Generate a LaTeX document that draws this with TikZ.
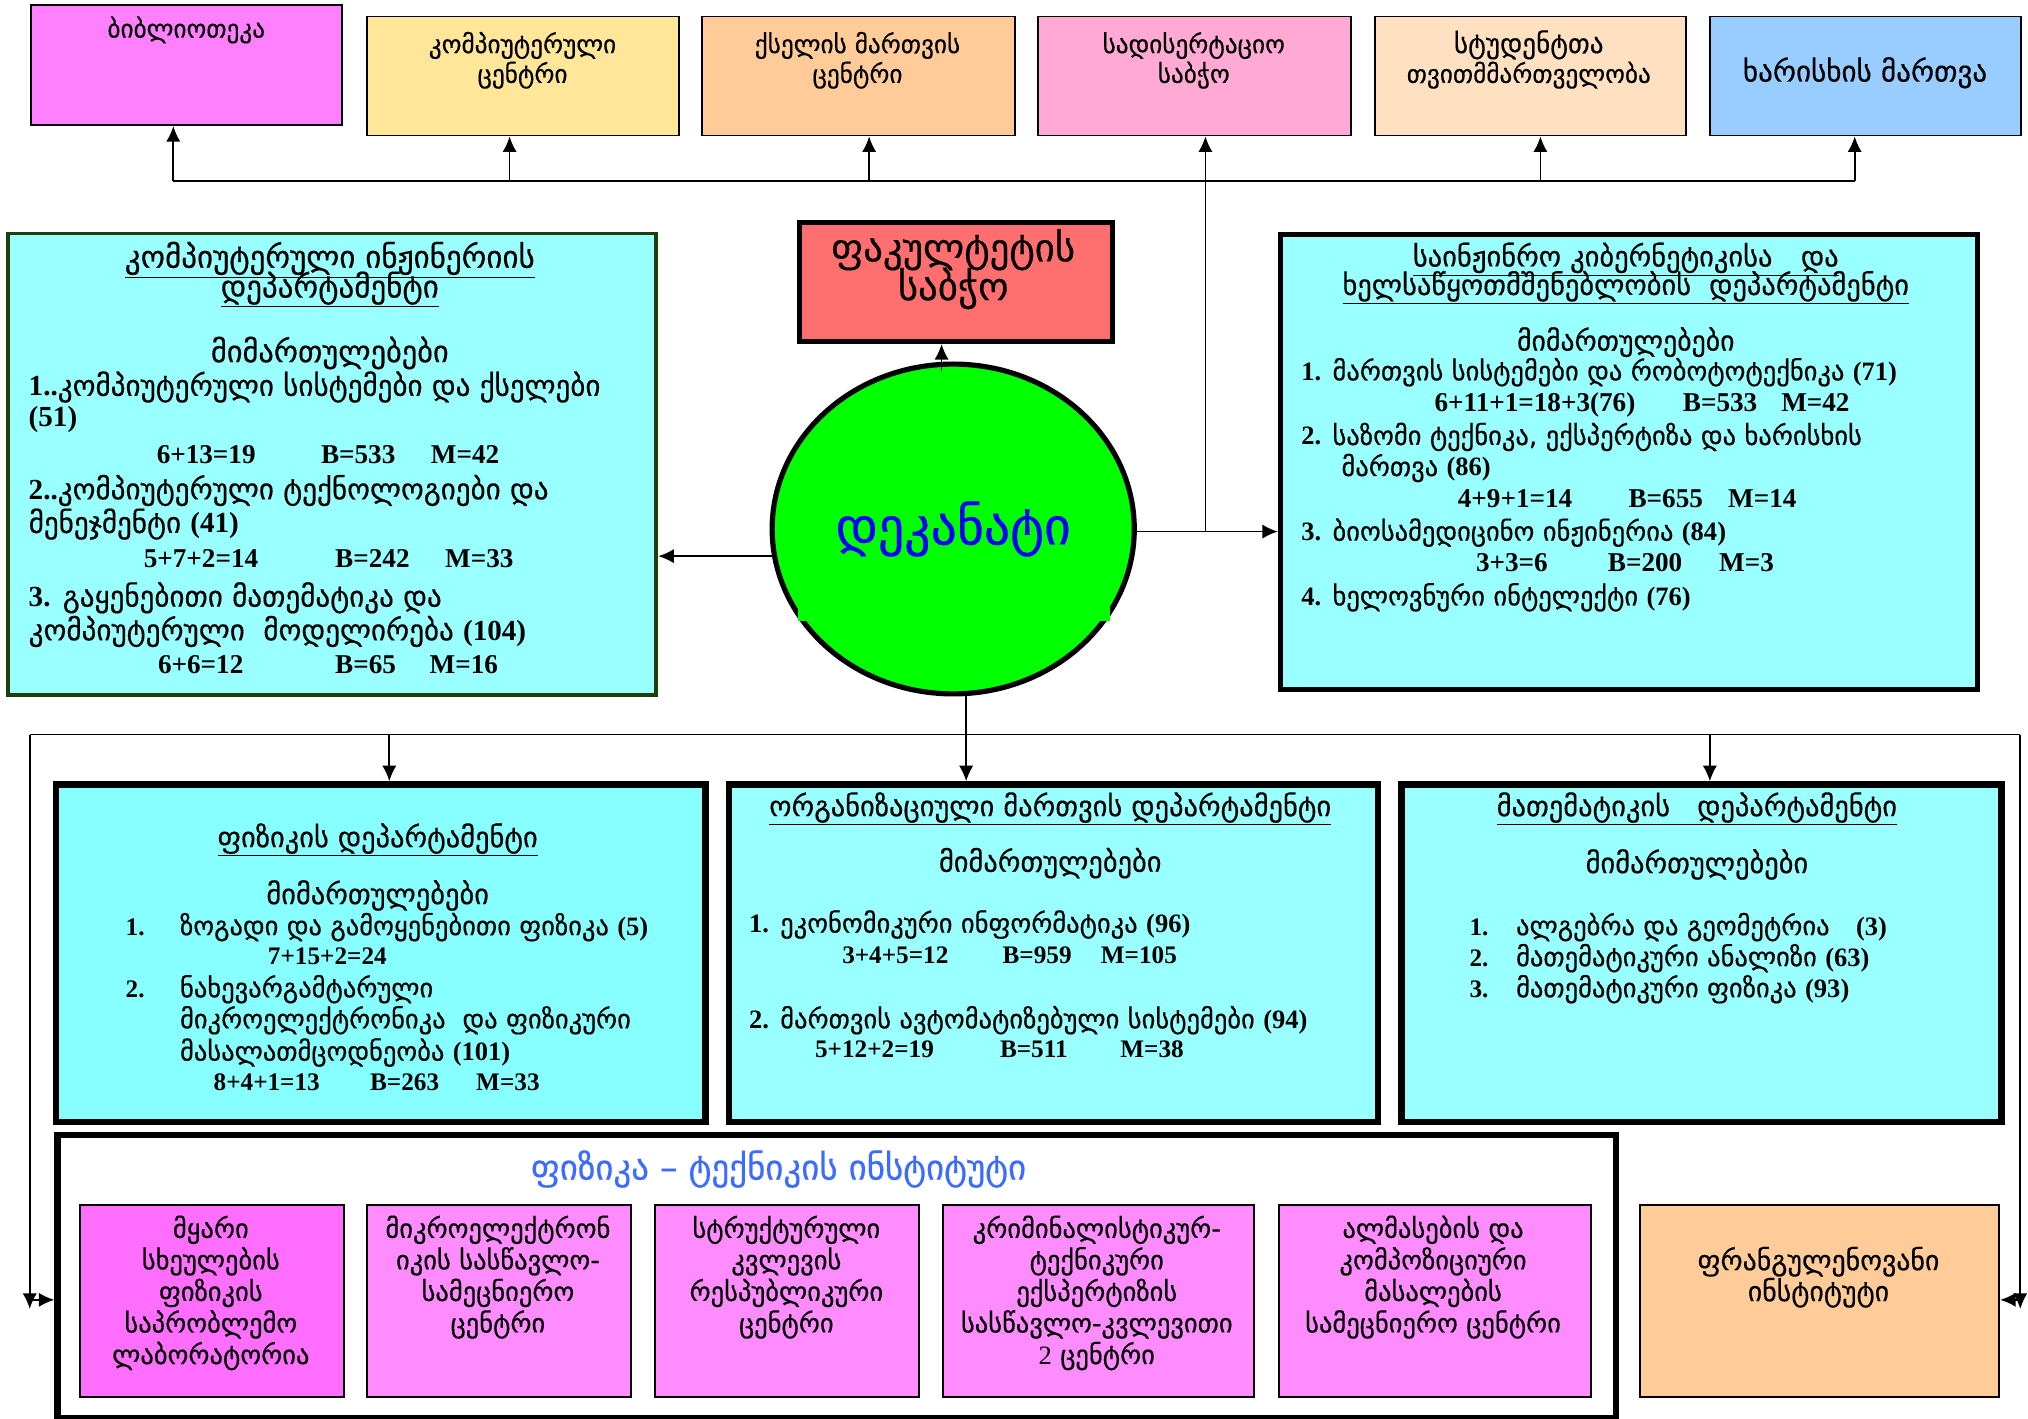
\documentclass[tikz,border=0pt]{standalone}
\usepackage{fontspec}
\setmainfont{Liberation Serif}
\newfontfamily\geo{DejaVu Sans}[FakeBold=0.4]
\newfontfamily\nmf{Liberation Serif}
\usetikzlibrary{shapes.geometric,arrows.meta}
\newcommand\nm[1]{{\nmf\bfseries #1}}
\newcommand\hd[1]{\iffontchar\font"1C90 \MakeUppercase{#1}\else #1\fi}
\definecolor{cLib}{HTML}{FF80FF}
\definecolor{cYel}{HTML}{FFE699}
\definecolor{cPeach}{HTML}{FFCC99}
\definecolor{cPink}{HTML}{FFA9D4}
\definecolor{cBisque}{HTML}{FFE0C0}
\definecolor{cBlue}{HTML}{99CCFF}
\definecolor{cRed}{HTML}{FF6F6F}
\definecolor{cGreen}{HTML}{00FF00}
\definecolor{cCyan}{HTML}{99FFFF}
\definecolor{cCyanB}{HTML}{88FFFF}
\definecolor{cMagA}{HTML}{FF6EFF}
\definecolor{cMagB}{HTML}{FF8CFF}
\definecolor{cDkGreen}{HTML}{1C3F0C}
\definecolor{cTitle}{HTML}{3B6BFF}
\tikzset{
  bx/.style={draw, inner sep=0pt, anchor=north west, line width=1.5pt},
  t/.style={inner sep=0pt, text height=15pt, text depth=5pt},
  gfs/.style={t, font=\geo\fontsize{#1}{24}\selectfont},
  gT/.style={gfs=19.5},
  gLl/.style={gfs=22.5},
  gLr/.style={gfs=20.5},
  gM/.style={gfs=20.5},
  gS/.style={gfs=20.5},
  nL/.style={t, font=\nmf\bfseries\fontsize{21}{24}\selectfont},
  nM/.style={t, font=\nmf\bfseries\fontsize{19.5}{22}\selectfont},
  ln/.style={line width=1.3pt},
  arr/.style={line width=1.3pt, -{Latex[length=12pt,width=11pt]}},
}
\begin{document}
\begin{tikzpicture}[x=1pt,y=-1pt]
\useasboundingbox (0,0) rectangle (1568,1097);

% ---------- top row boxes ----------
\node[bx, fill=cLib, minimum width=241pt, minimum height=93pt] (lib) at (23,3) {};
\node[bx, fill=cYel, minimum width=241pt, minimum height=92pt] (cc) at (283,12) {};
\node[bx, fill=cPeach, minimum width=242pt, minimum height=92pt] (net) at (542,12) {};
\node[bx, fill=cPink, minimum width=242pt, minimum height=92pt] (dis) at (802,12) {};
\node[bx, fill=cBisque, minimum width=241pt, minimum height=92pt] (stu) at (1062,12) {};
\node[bx, fill=cBlue, minimum width=241pt, minimum height=92pt] (qual) at (1321,12) {};

\node[gT] (libt) at (144,24) {ბიბლიოთეკა};
\node[gT] (cct1) at (404,36) {კომპიუტერული};
\node[gT] (cct2) at (404,59) {ცენტრი};
\node[gT] (nett1) at (663,36) {ქსელის მართვის};
\node[gT] (nett2) at (663,59) {ცენტრი};
\node[gT] (dist1) at (923,36) {სადისერტაციო};
\node[gT] (dist2) at (923,59) {საბჭო};
\node[gfs=21] (stut1) at (1182,36) {სტუდენტთა};
\node[gT] (stut2) at (1182,59) {თვითმმართველობა};
\node[gfs=22.5] (qualt) at (1442,58) {ხარისხის მართვა};

% ---------- council and dean ----------
\node[bx, line width=4pt, fill=cRed, minimum width=242pt, minimum height=92pt] (cou) at (616,170) {};
\node[gfs=30] (cout1) at (737,197) {\hd{ფაკულტეტის}};
\node[gfs=30] (cout2) at (737,227) {\hd{საბჭო}};

\node[ellipse, draw, line width=4pt, fill=cGreen, minimum width=280pt, minimum height=255pt, inner sep=0pt,
      text=blue, font=\geo\fontsize{40}{42}\selectfont] (dek) at (737,409) {\hd{დეკანატი}};
\fill[cGreen] (617,467) rectangle (626,480);
\fill[cGreen] (849,467) rectangle (858,480);

% ---------- left department ----------
\node[bx, line width=3pt, draw=cDkGreen, fill=cCyan, minimum width=501pt, minimum height=357pt] (lbox) at (5,179) {};
\node[gfs=24] (lh1) at (255,202) {\underline{\hd{კომპიუტერული ინჟინერიის}}};
\node[gfs=24] (lh2) at (255,225) {\underline{\hd{დეპარტამენტი}}};
\node[gfs=23.5] (lh3) at (255,275) {\hd{მიმართულებები}};
\node[gLl, anchor=west] (l1) at (22,301) {\nm{1..}კომპიუტერული სისტემები და ქსელები};
\node[gLl, anchor=west] (l2) at (22,325) {\nm{(51)}};
\node[nL, anchor=west] (l3a) at (121,353) {6+13=19};
\node[nL, anchor=west] (l3b) at (248,353) {B=533};
\node[nL, anchor=west] (l3c) at (333,353) {M=42};
\node[gLl, anchor=west] (l4) at (22,381) {\nm{2..}კომპიუტერული ტექნოლოგიები და};
\node[gLl, anchor=west] (l5) at (22,407) {მენეჯმენტი \nm{(41)}};
\node[nL, anchor=west] (l6a) at (111,434) {5+7+2=14};
\node[nL, anchor=west] (l6b) at (259,434) {B=242};
\node[nL, anchor=west] (l6c) at (344,434) {M=33};
\node[gLl, anchor=west] (l7) at (22,464) {\nm{3.} გაყენებითი მათემატიკა და};
\node[gLl, anchor=west] (l8) at (22,490) {კომპიუტერული\ \ მოდელირება \nm{(104)}};
\node[nL, anchor=west] (l9a) at (122,516) {6+6=12};
\node[nL, anchor=west] (l9b) at (259,516) {B=65};
\node[nL, anchor=west] (l9c) at (332,516) {M=16};

% ---------- right department ----------
\node[bx, line width=4pt, fill=cCyan, minimum width=539pt, minimum height=352pt] (rbox) at (988,179) {};
\node[gfs=22] (rh1) at (1257,201) {\underline{\hd{საინჟინრო კიბერნეტიკისა\quad და}}};
\node[gfs=22] (rh2) at (1257,223) {\underline{\hd{ხელსაწყოთმშენებლობის\ \ დეპარტამენტი}}};
\node[gfs=21.5] (rh3) at (1257,266) {\hd{მიმართულებები}};
\node[gLr, anchor=west] (r1) at (1006,289) {\nm{1.} მართვის სისტემები და რობოტოტექნიკა \nm{(71)}};
\node[nL, anchor=west] (r2a) at (1109,313) {6+11+1=18+3(76)};
\node[nL, anchor=west] (r2b) at (1301,313) {B=533};
\node[nL, anchor=west] (r2c) at (1377,313) {M=42};
\node[gLr, anchor=west] (r3) at (1006,339) {\nm{2.} საზომი ტექნიკა, ექსპერტიზა და ხარისხის};
\node[gLr, anchor=west] (r4) at (1037,363) {მართვა \nm{(86)}};
\node[nL, anchor=west] (r5a) at (1127,387) {4+9+1=14};
\node[nL, anchor=west] (r5b) at (1259,387) {B=655};
\node[nL, anchor=west] (r5c) at (1336,387) {M=14};
\node[gLr, anchor=west] (r6) at (1006,413) {\nm{3.} ბიოსამედიცინო ინჟინერია \nm{(84)}};
\node[nL, anchor=west] (r7a) at (1141,437) {3+3=6};
\node[nL, anchor=west] (r7b) at (1243,437) {B=200};
\node[nL, anchor=west] (r7c) at (1329,437) {M=3};
\node[gLr, anchor=west] (r8) at (1006,463) {\nm{4.} ხელოვნური ინტელექტი \nm{(76)}};

% ---------- bottom departments ----------
\node[bx, line width=5pt, fill=cCyanB, minimum width=502pt, minimum height=261pt] (phy) at (41,604) {};
\node[gfs=22] (ph1) at (292,650) {\underline{\hd{ფიზიკის დეპარტამენტი}}};
\node[gfs=22] (ph2) at (292,694) {\hd{მიმართულებები}};
\node[nM, anchor=west] (p1n) at (97,718) {1.};
\node[gM, anchor=west] (p1) at (139,718) {ზოგადი და გამოყენებითი ფიზიკა \nm{(5)}};
\node[nM, anchor=west] (p2) at (207,741) {7+15+2=24};
\node[nM, anchor=west] (p3n) at (97,766) {2.};
\node[gM, anchor=west] (p3) at (139,766) {ნახევარგამტარული};
\node[gM, anchor=west] (p4) at (139,790) {მიკროელექტრონიკა\ \ და ფიზიკური};
\node[gM, anchor=west] (p5) at (139,815) {მასალათმცოდნეობა \nm{(101)}};
\node[nM, anchor=west] (p6a) at (165,838) {8+4+1=13};
\node[nM, anchor=west] (p6b) at (286,838) {B=263};
\node[nM, anchor=west] (p6c) at (368,838) {M=33};

\node[bx, line width=5pt, fill=cCyan, minimum width=502pt, minimum height=261pt] (org) at (561,604) {};
\node[gfs=22] (oh1) at (812,626) {\underline{\hd{ორგანიზაციული მართვის დეპარტამენტი}}};
\node[gfs=22] (oh2) at (812,669) {\hd{მიმართულებები}};
\node[gM, anchor=west] (o1) at (579,716) {\nm{1.} ეკონომიკური ინფორმატიკა \nm{(96)}};
\node[nM, anchor=west] (o2a) at (651,740) {3+4+5=12};
\node[nM, anchor=west] (o2b) at (775,740) {B=959};
\node[nM, anchor=west] (o2c) at (851,740) {M=105};
\node[gM, anchor=west] (o3) at (579,790) {\nm{2.} მართვის ავტომატიზებული სისტემები \nm{(94)}};
\node[nM, anchor=west] (o4a) at (630,813) {5+12+2=19};
\node[nM, anchor=west] (o4b) at (773,813) {B=511};
\node[nM, anchor=west] (o4c) at (866,813) {M=38};

\node[bx, line width=5pt, fill=cCyan, minimum width=464pt, minimum height=261pt] (math) at (1081,604) {};
\node[gfs=22] (mh1) at (1312,626) {\underline{\hd{მათემატიკის\ \ \ დეპარტამენტი}}};
\node[gfs=22] (mh2) at (1312,670) {\hd{მიმართულებები}};
\node[nM, anchor=west] (m1n) at (1136,718) {1.};
\node[gM, anchor=west] (m1) at (1172,718) {ალგებრა და გეომეტრია\quad\nm{(3)}};
\node[nM, anchor=west] (m2n) at (1136,742) {2.};
\node[gM, anchor=west] (m2) at (1172,742) {მათემატიკური ანალიზი \nm{(63)}};
\node[nM, anchor=west] (m3n) at (1136,766) {3.};
\node[gM, anchor=west] (m3) at (1172,766) {მათემატიკური ფიზიკა \nm{(93)}};

% ---------- institute ----------
\node[bx, line width=5pt, fill=white, minimum width=1205pt, minimum height=219pt] (inst) at (42,875) {};
\node[gfs=27, text=cTitle] (instt) at (602,907) {\hd{ფიზიკა – ტექნიკის ინსტიტუტი}};

\node[bx, fill=cMagA, minimum width=204pt, minimum height=148pt] (sa) at (61,931) {};
\node[bx, fill=cMagB, minimum width=204pt, minimum height=148pt] (sb) at (283,931) {};
\node[bx, fill=cMagB, minimum width=204pt, minimum height=148pt] (sc) at (506,931) {};
\node[bx, fill=cMagB, minimum width=241pt, minimum height=148pt] (sd) at (728,931) {};
\node[bx, fill=cMagB, minimum width=241pt, minimum height=148pt] (se) at (988,931) {};
\node[bx, fill=cPeach, minimum width=278pt, minimum height=148pt] (fr) at (1267,931) {};

\foreach [count=\i] \s in {მყარი,სხეულების,ფიზიკის,საპრობლემო,ლაბორატორია}
  \node[gS] (sat\i) at (163,{952+24.4*(\i-1)}) {\s};
\foreach [count=\i] \s in {მიკროელექტრონ,იკის სასწავლო-,სამეცნიერო,ცენტრი}
  \node[gS] (sbt\i) at (385,{952+24.4*(\i-1)}) {\s};
\foreach [count=\i] \s in {სტრუქტურული,კვლევის,რესპუბლიკური,ცენტრი}
  \node[gS] (sct\i) at (608,{952+24.4*(\i-1)}) {\s};
\foreach [count=\i] \s in {კრიმინალისტიკურ-,ტექნიკური,ექსპერტიზის,სასწავლო-კვლევითი,{{\nmf 2} ცენტრი}}
  \node[gS] (sdt\i) at (848,{952+24.4*(\i-1)}) {\s};
\foreach [count=\i] \s in {ალმასების და,კომპოზიციური,მასალების,სამეცნიერო ცენტრი}
  \node[gS] (set\i) at (1108,{952+24.4*(\i-1)}) {\s};
\node[gfs=21.5] (frt1) at (1406,977) {ფრანგულენოვანი};
\node[gfs=21.5] (frt2) at (1406,1001) {ინსტიტუტი};

% ---------- connectors ----------
\coordinate (hl) at (134,140);
\coordinate (hr) at (1434,140);
\draw[ln] (hl) -- (hr);
\draw[arr] (hl) -- (hl |- lib.south);
\draw[arr] (394,140) -- (394,140 |- cc.south);
\draw[arr] (672,140) -- (672,140 |- net.south);
\draw[arr] (1191,140) -- (1191,140 |- stu.south);
\draw[arr] (hr) -- (hr |- qual.south);
\coordinate (jr) at (932,411);
\draw[arr] (jr) -- (jr |- dis.south);
\draw[arr] (dek.east |- jr) -- (jr -| rbox.west);
\coordinate (el) at (598,430);
\draw[arr] (el) -- (el -| lbox.east);
\coordinate (et) at (728,287);
\draw[arr] (et) -- (et |- cou.south);
\coordinate (eb) at (747,536);
\draw[arr] (eb) -- (eb |- org.north);
\coordinate (bl) at (23,568);
\coordinate (br) at (1562,568);
\draw[ln] (bl) -- (br);
\draw[arr] (301,568) -- (301,568 |- phy.north);
\draw[arr] (1322,568) -- (1322,568 |- math.north);
\draw[arr] (bl) -- (23,1012);
\draw[arr] (br) -- (1562,1012);
\coordinate (lb) at (23,1005);
\coordinate (rb) at (1562,1005);
\draw[arr] (lb) -- (lb -| inst.west);
\draw[arr] (rb) -- (rb -| fr.east);
\end{tikzpicture}
\end{document}
